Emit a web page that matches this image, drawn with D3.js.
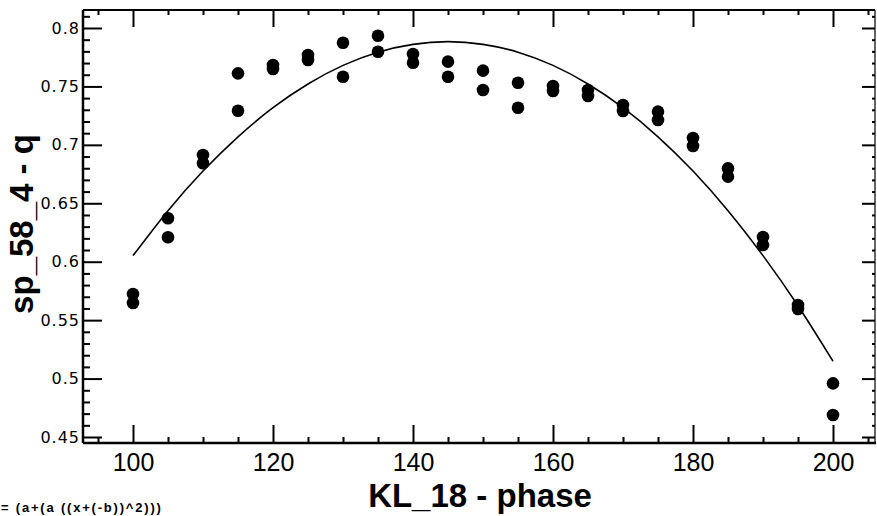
<!DOCTYPE html>
<html>
<head>
<meta charset="utf-8">
<script src="https://cdn.jsdelivr.net/npm/d3@7"></script>
<style>
  html, body { margin: 0; padding: 0; background: #ffffff; }
  svg { display: block; }
</style>
</head>
<body>
<svg id="chart" width="877" height="516"></svg>
<script>
// ---- data ----
const phase = [100, 105, 110, 115, 120, 125, 130, 135, 140, 145, 150, 155, 160, 165, 170, 175, 180, 185, 190, 195, 200];
const qUpper = [0.5724, 0.6372, 0.6913, 0.7612, 0.7683, 0.7769, 0.7874, 0.7934, 0.7778, 0.7712, 0.7635, 0.7532, 0.7504, 0.7469, 0.7341, 0.7284, 0.7059, 0.6799, 0.6212, 0.5630, 0.4959];
const qLower = [0.5647, 0.6209, 0.6842, 0.7292, 0.7649, 0.7726, 0.7583, 0.7797, 0.7703, 0.7583, 0.7469, 0.7318, 0.7461, 0.7418, 0.7290, 0.7213, 0.6990, 0.6728, 0.6143, 0.5596, 0.4688];
const fitX = [100, 105, 110, 115, 120, 125, 130, 135, 140, 145, 150, 155, 160, 165, 170, 175, 180, 185, 190, 195, 200];
const fitY = [0.6052, 0.6437, 0.6776, 0.7069, 0.7318, 0.7521, 0.7680, 0.7793, 0.7860, 0.7883, 0.7860, 0.7793, 0.7680, 0.7521, 0.7318, 0.7069, 0.6776, 0.6437, 0.6052, 0.5623, 0.5148];
const xMajorTicks = [100, 120, 140, 160, 180, 200];
const xMinorTicks = [95, 105, 110, 115, 125, 130, 135, 145, 150, 155, 165, 170, 175, 185, 190, 195, 205];
const yMajorTicks = [0.45, 0.5, 0.55, 0.6, 0.65, 0.7, 0.75, 0.8];
const yTickLabels = ["0.45", "0.5", "0.55", "0.6", "0.65", "0.7", "0.75", "0.8"];
const yMinorTicks = [0.46,0.47,0.48,0.49,0.51,0.52,0.53,0.54,0.56,0.57,0.58,0.59,0.61,0.62,0.63,0.64,0.66,0.67,0.68,0.69,0.71,0.72,0.73,0.74,0.76,0.77,0.78,0.79,0.81];
const xTitle = "KL_18 - phase";
const yTitle = "sp_58_4 - q";
const formulaText = "= (a+(a ((x+(-b))^2)))";

// ---- layout ----
const L = 83, R = 875, T = 10, B = 443;
const svg = d3.select("#chart");
const x = d3.scaleLinear().domain([92.857, 206]).range([L, R]);
const y = d3.scaleLinear().domain([0.44487, 0.8154]).range([B, T]);

function styleAxis(g) {
  g.select(".domain").remove();
  g.selectAll(".tick line").attr("stroke", "#000").attr("stroke-width", 2);
}

// bottom axis (ticks pointing up)
svg.append("g").attr("transform", `translate(0,${B})`)
  .call(d3.axisBottom(x).tickValues(xMajorTicks).tickSizeInner(-18).tickSizeOuter(0).tickPadding(28).tickFormat(d3.format("d")))
  .call(styleAxis)
  .call(g => g.selectAll("text").attr("font-family", "Arial, 'Liberation Sans', sans-serif").attr("font-size", 25).attr("fill", "#000").attr("dy", "0"));
svg.append("g").attr("transform", `translate(0,${B})`)
  .call(d3.axisBottom(x).tickValues(xMinorTicks).tickSizeInner(-6).tickSizeOuter(0).tickFormat(""))
  .call(styleAxis);

// top axis (ticks pointing down)
svg.append("g").attr("transform", `translate(0,${T})`)
  .call(d3.axisTop(x).tickValues(xMajorTicks).tickSizeInner(-17).tickSizeOuter(0).tickFormat(""))
  .call(styleAxis);
svg.append("g").attr("transform", `translate(0,${T})`)
  .call(d3.axisTop(x).tickValues(xMinorTicks).tickSizeInner(-5).tickSizeOuter(0).tickFormat(""))
  .call(styleAxis);

// left axis (ticks pointing right)
svg.append("g").attr("transform", `translate(${L},0)`)
  .call(d3.axisLeft(y).tickValues(yMajorTicks).tickSizeInner(-19).tickSizeOuter(0).tickPadding(3)
    .tickFormat((d, i) => yTickLabels[i]))
  .call(styleAxis)
  .call(g => g.selectAll("text").attr("font-family", "'DejaVu Sans', sans-serif").attr("font-size", 16)
    .attr("letter-spacing", "1px").attr("fill", "#000"));
svg.append("g").attr("transform", `translate(${L},0)`)
  .call(d3.axisLeft(y).tickValues(yMinorTicks).tickSizeInner(-7).tickSizeOuter(0).tickFormat(""))
  .call(styleAxis);

// right axis (ticks pointing left)
svg.append("g").attr("transform", `translate(${R},0)`)
  .call(d3.axisRight(y).tickValues(yMajorTicks).tickSizeInner(-13).tickSizeOuter(0).tickFormat(""))
  .call(styleAxis);
svg.append("g").attr("transform", `translate(${R},0)`)
  .call(d3.axisRight(y).tickValues(yMinorTicks).tickSizeInner(-3).tickSizeOuter(0).tickFormat(""))
  .call(styleAxis);

// frame
svg.append("line").attr("x1", L).attr("x2", R + 1).attr("y1", B).attr("y2", B).attr("stroke", "#000").attr("stroke-width", 2.5);
svg.append("line").attr("x1", L).attr("x2", L).attr("y1", T).attr("y2", B).attr("stroke", "#000").attr("stroke-width", 2.5);
svg.append("line").attr("x1", L).attr("x2", R).attr("y1", T).attr("y2", T).attr("stroke", "#000").attr("stroke-width", 2);
svg.append("line").attr("x1", R).attr("x2", R).attr("y1", T).attr("y2", B).attr("stroke", "#000").attr("stroke-width", 1.2);

// fitted curve
const fitPts = fitX.map((d, i) => [d, fitY[i]]);
svg.append("path").datum(fitPts)
  .attr("fill", "none").attr("stroke", "#000").attr("stroke-width", 1.6)
  .attr("d", d3.line().x(d => x(d[0])).y(d => y(d[1])).curve(d3.curveNatural));

// points
const pts = phase.flatMap((p, i) => [[p, qUpper[i]], [p, qLower[i]]]);
svg.append("g").selectAll("circle").data(pts).join("circle")
  .attr("cx", d => x(d[0])).attr("cy", d => y(d[1])).attr("r", 6.3).attr("fill", "#000");

// axis titles
svg.append("text").attr("x", 480).attr("y", 507).attr("text-anchor", "middle")
  .attr("font-family", "Arial, 'Liberation Sans', sans-serif").attr("font-weight", "bold").attr("font-size", 33)
  .attr("fill", "#000").text(xTitle);
svg.append("text").attr("transform", "translate(33,224) rotate(-90)").attr("text-anchor", "middle")
  .attr("font-family", "Arial, 'Liberation Sans', sans-serif").attr("font-weight", "bold").attr("font-size", 33)
  .attr("fill", "#000").text(yTitle);

// formula text at bottom-left (cut at the page edge in the reference; kept just inside here)
svg.append("text").attr("x", 1).attr("y", 512)
  .attr("font-family", "Arial, 'Liberation Sans', sans-serif").attr("font-weight", "bold").attr("font-size", 13)
  .attr("letter-spacing", "1.8px")
  .attr("fill", "#000").text(formulaText);
</script>
</body>
</html>
